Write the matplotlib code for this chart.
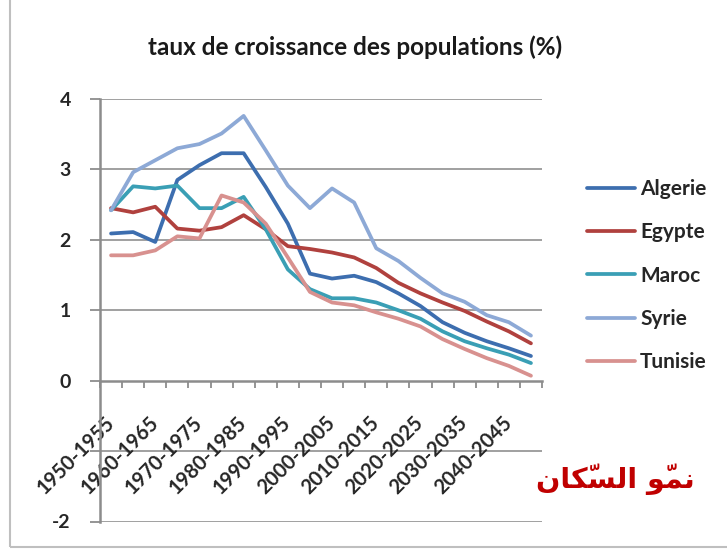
import matplotlib
matplotlib.use("Agg")
import matplotlib.pyplot as plt
import numpy as np

periods = ["1950-1955", "1955-1960", "1960-1965", "1965-1970", "1970-1975", "1975-1980",
           "1980-1985", "1985-1990", "1990-1995", "1995-2000", "2000-2005", "2005-2010",
           "2010-2015", "2015-2020", "2020-2025", "2025-2030", "2030-2035", "2035-2040",
           "2040-2045", "2045-2050"]
algerie = [2.09, 2.11, 1.97, 2.85, 3.06, 3.23, 3.23, 2.75, 2.23, 1.52, 1.45, 1.49, 1.40, 1.24, 1.06, 0.83, 0.68, 0.56, 0.46, 0.35]
egypte = [2.45, 2.39, 2.47, 2.16, 2.13, 2.18, 2.35, 2.15, 1.91, 1.87, 1.82, 1.75, 1.60, 1.39, 1.24, 1.11, 0.99, 0.84, 0.70, 0.53]
maroc = [2.42, 2.76, 2.73, 2.77, 2.45, 2.45, 2.61, 2.15, 1.58, 1.30, 1.17, 1.17, 1.11, 1.00, 0.88, 0.70, 0.56, 0.46, 0.37, 0.25]
syrie = [2.42, 2.96, 3.13, 3.30, 3.36, 3.51, 3.76, 3.27, 2.77, 2.45, 2.73, 2.53, 1.88, 1.70, 1.46, 1.24, 1.12, 0.93, 0.83, 0.64]
tunisie = [1.78, 1.78, 1.85, 2.05, 2.02, 2.63, 2.53, 2.23, 1.75, 1.26, 1.11, 1.07, 0.97, 0.88, 0.77, 0.59, 0.45, 0.32, 0.21, 0.07]
series_names = ["Algerie", "Egypte", "Maroc", "Syrie", "Tunisie"]
y_ticks = [-2, -1, 0, 1, 2, 3, 4]
y_ticklabels = ["-2", "", "0", "1", "2", "3", "4"]
title = "taux de croissance des populations (%)"
# نموّ السكّان written in Arabic presentation forms, visual order
arabic_text = "\uFEE5\uFE8E\uFEDC\u0651\uFEB4\uFEDF\uFE8D \uFEEE\u0651\uFEE4\uFEE7"

colors = ["#3D6EAF", "#B0413E", "#3A9FB5", "#8DA9D6", "#D8918F"]

plt.rcParams['font.family'] = ['Lato', 'DejaVu Sans']

W, H = 727, 550
fig = plt.figure(figsize=(W / 100, H / 100), dpi=100)
left, right, top, bottom = 100, 542, 99, 521.5
ax = fig.add_axes([left / W, 1 - bottom / H, (right - left) / W, (bottom - top) / H])

x = np.arange(len(periods))
for name, vals, c in zip(series_names, [algerie, egypte, maroc, syrie, tunisie], colors):
    ax.plot(x, vals, color=c, lw=2.7, label=name, solid_capstyle='round', solid_joinstyle='round', zorder=3)

ax.set_xlim(-0.5, len(periods) - 0.5)
ax.set_ylim(-2, 4)

# grid lines
for yv in y_ticks:
    if yv != 0:
        ax.axhline(yv, color="#A0A0A0", lw=1.4, zorder=1)

ax.spines['top'].set_visible(False)
ax.spines['right'].set_visible(False)
ax.spines['bottom'].set_position(('data', 0))
ax.spines['bottom'].set_color('#8C8C8C')
ax.spines['bottom'].set_linewidth(1.8)
ax.spines['bottom'].set_zorder(2)
ax.spines['left'].set_color('#8C8C8C')
ax.spines['left'].set_linewidth(1.8)

ax.set_yticks(y_ticks)
ax.set_yticklabels(y_ticklabels, fontsize=14, fontweight='bold', color='#262626')
ax.tick_params(axis='y', length=7, width=1.3, color='#8C8C8C', pad=14)

ax.set_xticks(x[::2])
ax.set_xticklabels(periods[::2], rotation=45, ha='right', va='center', rotation_mode='anchor',
                   fontsize=14.5, fontweight='bold', color='#262626')
ax.tick_params(axis='x', which='major', length=0, pad=28)
ax.set_xticks(np.arange(-0.5, len(periods)), minor=True)
ax.tick_params(axis='x', which='minor', length=5, width=1.3, color='#8C8C8C', direction='out')

fig.text(355 / W, 1 - 47 / H, title, ha='center', va='center', fontsize=17.5, fontweight='bold', color='#1a1a1a')

leg = fig.legend(loc='center left', bbox_to_anchor=(587 / W, 1 - 275.5 / H), frameon=False,
                 borderpad=0, borderaxespad=0, handlelength=2.3, handletextpad=0.25,
                 labelspacing=1.12, prop={'family': 'Lato', 'weight': 'bold', 'size': 15})
for t in leg.get_texts():
    t.set_color('#262626')

fig.text(615 / W, 1 - 479 / H, arabic_text, ha='center', va='center', fontsize=20.5,
         fontweight='bold', color='#C00000', family=['DejaVu Sans'])

# chart border
fig.patches.append(plt.Rectangle((10 / W, 1 - 547 / H), (W + 20) / W, 560 / H, transform=fig.transFigure,
                                 fill=False, ec='#BFBFBF', lw=1.5))

fig.savefig("out.png", dpi=100)
